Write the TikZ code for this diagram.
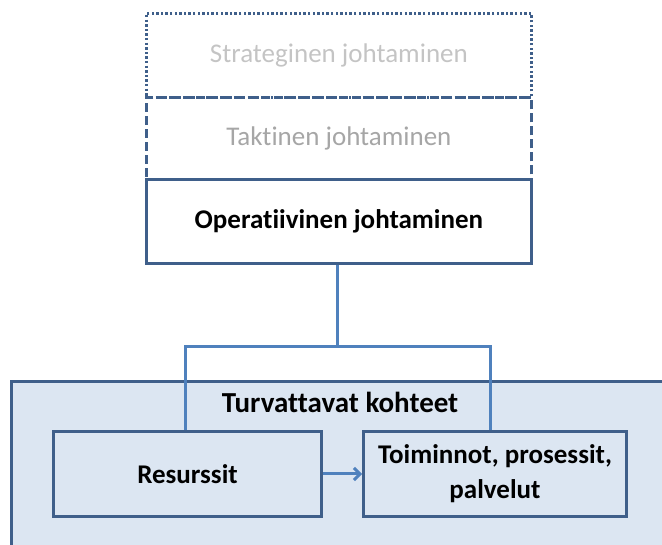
\documentclass[tikz,border=0pt]{standalone}
\usepackage{fontspec}
\setmainfont[Ligatures={NoCommon}]{Carlito}
\usetikzlibrary{arrows.meta}
\definecolor{boxline}{HTML}{3F5F8A}
\definecolor{conn}{HTML}{4F81BD}
\definecolor{fillb}{HTML}{DCE6F2}
\definecolor{gray1}{HTML}{C4C4C4}
\definecolor{gray2}{HTML}{A6A6A6}
\tikzset{
  lvl/.style={draw=boxline, line width=2.8pt, minimum width=385pt, minimum height=84pt, inner sep=0pt, font=\fontsize{27}{30}\selectfont},
  inbox/.style={draw=boxline, line width=3pt, fill=fillb, minimum height=85pt, inner sep=0pt, align=center, font=\bfseries\fontsize{27}{35}\selectfont},
  connl/.style={draw=conn, line width=3pt},
}
\begin{document}
\begin{tikzpicture}[x=1pt,y=-1pt]
\useasboundingbox (0,0) rectangle (662,545);
\begin{scope}
\clip (0,0) rectangle (662,545);
\node[draw=boxline, line width=3pt, fill=fillb, minimum width=680pt, minimum height=190pt, anchor=north west, inner sep=0pt] (outer) at (10,380) {};
\end{scope}
\node[font=\bfseries\fontsize{29}{32}\selectfont] (title) at (340,402) {Turvattavat kohteet};
% levels
\node[lvl, dash pattern=on 2.4pt off 2.2pt, text=gray1, anchor=north west] (strat) at (145,12) {Strateginen johtaminen};
\node[lvl, dash pattern=on 9pt off 4pt, text=gray2, anchor=north west, minimum height=82pt] (takt) at (145,96) {Taktinen johtaminen};
\node[lvl, anchor=north west, font=\bfseries\fontsize{27}{30}\selectfont] (oper) at (145,178) {Operatiivinen johtaminen};
% inner boxes
\node[inbox, minimum width=268pt, anchor=north west] (res) at (52,430) {Resurssit};
\node[inbox, minimum width=263pt, anchor=north west] (toim) at (362,430) {Toiminnot, prosessit,\\palvelut};
% connectors
\coordinate (split) at (337,347);
\coordinate (sl) at (185,347);
\coordinate (sr) at (490,347);
\draw[connl] (oper.south -| split) -- (split);
\draw[connl] (sl |- res.north) -- (sl) -- (sr) -- (sr |- toim.north);
\draw[connl, -{Straight Barb[length=6pt,width=12pt]}] (res.east) -- (toim.west);
\end{tikzpicture}
\end{document}
